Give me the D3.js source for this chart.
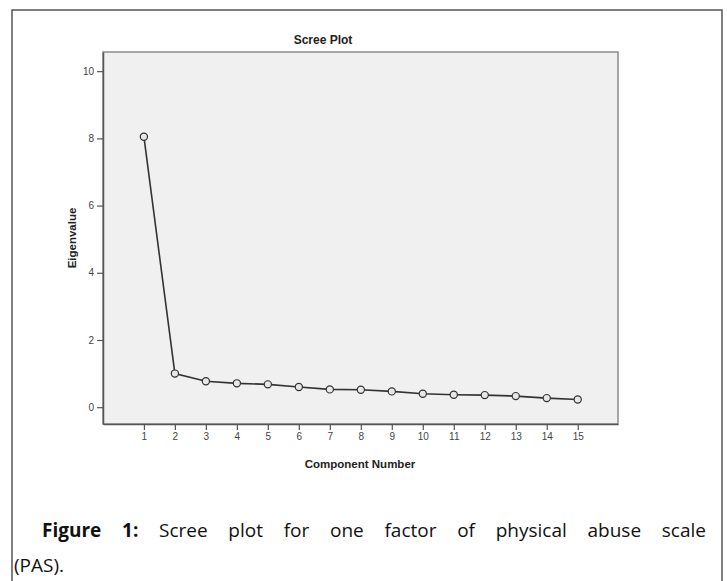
<!DOCTYPE html>
<html><head><meta charset="utf-8">
<script src="https://cdn.jsdelivr.net/npm/d3@7"></script>
<style>body{margin:0;background:#fff}svg{display:block}</style>
</head><body>
<svg id="c" width="727" height="581"></svg>
<script>
const components = [1,2,3,4,5,6,7,8,9,10,11,12,13,14,15];
const eigenvalues = [8.05,1.00,0.77,0.71,0.68,0.60,0.53,0.52,0.47,0.40,0.37,0.36,0.33,0.27,0.23];
const yTicks = [0,2,4,6,8,10];
const chartTitle = "Scree Plot";
const xTitle = "Component Number";
const yTitle = "Eigenvalue";
const captionBold = "Figure 1:";
const captionRest = "Scree plot for one factor of physical abuse scale";
const captionLine2 = "(PAS).";

const svg = d3.select("#c");
// outer frame
svg.append("rect").attr("x",12).attr("y",10).attr("width",710).attr("height",600)
  .attr("fill","none").attr("stroke","#555").attr("stroke-width",1.5);

const L=103, R=618, T=52, B=424;
const x = d3.scaleLinear().domain([-0.32,16.3]).range([L,R]);
const y = d3.scaleLinear().domain([-0.5,10.57]).range([B,T]);

svg.append("rect").attr("x",L).attr("y",T).attr("width",R-L).attr("height",B-T)
  .attr("fill","#f0f0f0").attr("stroke","#8c8c8c").attr("stroke-width",1.5);

const xAxis = svg.append("g").attr("transform",`translate(0,${B})`)
  .call(d3.axisBottom(x).tickValues(components).tickSizeInner(6).tickSizeOuter(0).tickPadding(3).tickFormat(d3.format("d")));
const yAxis = svg.append("g").attr("transform",`translate(${L},0)`)
  .call(d3.axisLeft(y).tickValues(yTicks).tickSizeInner(6).tickSizeOuter(0).tickPadding(3));
[xAxis,yAxis].forEach(a=>{
  a.select(".domain").attr("stroke","#555").attr("stroke-width",1.5);
  a.selectAll(".tick line").attr("stroke","#555").attr("stroke-width",1.2);
  a.selectAll(".tick text").attr("fill","#444").style("font-family","Liberation Sans, Arial, sans-serif").style("font-size","10px");
});

const line = d3.line().x((d,i)=>x(components[i])).y(d=>y(d));
svg.append("path").datum(eigenvalues).attr("d",line).attr("fill","none")
  .attr("stroke","#333").attr("stroke-width",1.6);
svg.selectAll("circle.pt").data(eigenvalues).join("circle").attr("class","pt")
  .attr("cx",(d,i)=>x(components[i])).attr("cy",d=>y(d)).attr("r",3.6)
  .attr("fill","#e8e8e8").attr("stroke","#333").attr("stroke-width",1.2);

svg.append("text").attr("x",323).attr("y",44).attr("text-anchor","middle")
  .style("font-family","Liberation Sans, Arial, sans-serif").style("font-weight","bold").style("font-size","12px")
  .attr("fill","#222").text(chartTitle);
svg.append("text").attr("x",360).attr("y",468).attr("text-anchor","middle")
  .style("font-family","Liberation Sans, Arial, sans-serif").style("font-weight","bold").style("font-size","11.5px")
  .attr("fill","#222").text(xTitle);
svg.append("text").attr("transform","translate(76,238) rotate(-90)").attr("text-anchor","middle")
  .style("font-family","Liberation Sans, Arial, sans-serif").style("font-weight","bold").style("font-size","11.5px")
  .attr("fill","#222").text(yTitle);

// caption
const cap = svg.append("text").attr("x",42).attr("y",537)
  .style("font-family","Open Sans, sans-serif").style("font-size","19px").attr("fill","#111");
cap.append("tspan").style("font-weight","bold").text(captionBold);
cap.append("tspan").text(" "+captionRest);
const w = cap.node().getComputedTextLength();
const target = 706-42;
const nSpaces = (captionBold+" "+captionRest).split(" ").length-1;
cap.attr("word-spacing", Math.max(0,(target-w)/nSpaces));
svg.append("text").attr("x",14).attr("y",572)
  .style("font-family","Open Sans, sans-serif").style("font-size","19px").attr("fill","#111").text(captionLine2);
</script>
</body></html>
